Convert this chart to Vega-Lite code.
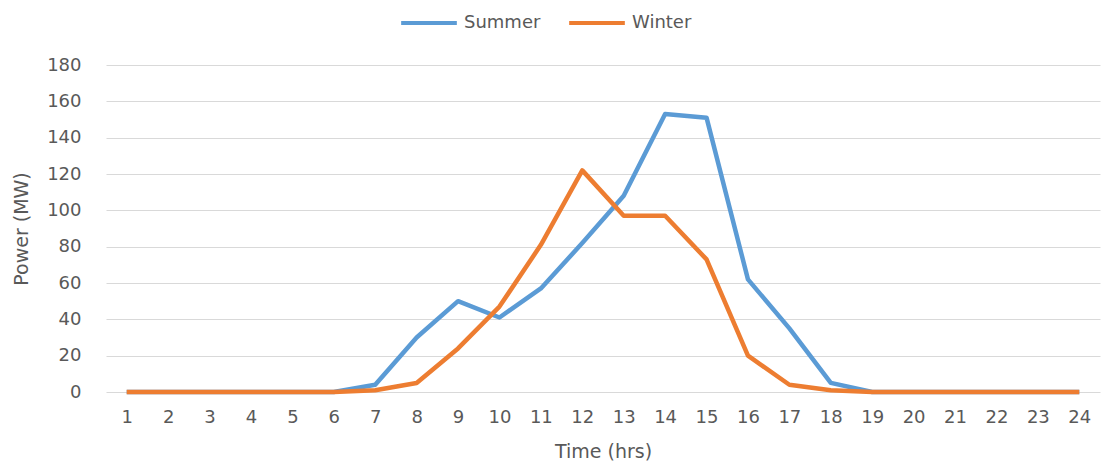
{
  "$schema": "https://vega.github.io/schema/vega-lite/v6.json",
  "width": 994,
  "height": 327,
  "autosize": {"type": "none"},
  "padding": {"left": 106, "top": 65, "right": 4, "bottom": 69},
  "background": "white",
  "data": {
    "values": [
      {"hour": 1, "season": "Summer", "power": 0},
      {"hour": 2, "season": "Summer", "power": 0},
      {"hour": 3, "season": "Summer", "power": 0},
      {"hour": 4, "season": "Summer", "power": 0},
      {"hour": 5, "season": "Summer", "power": 0},
      {"hour": 6, "season": "Summer", "power": 0},
      {"hour": 7, "season": "Summer", "power": 4},
      {"hour": 8, "season": "Summer", "power": 30},
      {"hour": 9, "season": "Summer", "power": 50},
      {"hour": 10, "season": "Summer", "power": 41},
      {"hour": 11, "season": "Summer", "power": 57},
      {"hour": 12, "season": "Summer", "power": 82},
      {"hour": 13, "season": "Summer", "power": 108},
      {"hour": 14, "season": "Summer", "power": 153},
      {"hour": 15, "season": "Summer", "power": 151},
      {"hour": 16, "season": "Summer", "power": 62},
      {"hour": 17, "season": "Summer", "power": 35},
      {"hour": 18, "season": "Summer", "power": 5},
      {"hour": 19, "season": "Summer", "power": 0},
      {"hour": 20, "season": "Summer", "power": 0},
      {"hour": 21, "season": "Summer", "power": 0},
      {"hour": 22, "season": "Summer", "power": 0},
      {"hour": 23, "season": "Summer", "power": 0},
      {"hour": 24, "season": "Summer", "power": 0},
      {"hour": 1, "season": "Winter", "power": 0},
      {"hour": 2, "season": "Winter", "power": 0},
      {"hour": 3, "season": "Winter", "power": 0},
      {"hour": 4, "season": "Winter", "power": 0},
      {"hour": 5, "season": "Winter", "power": 0},
      {"hour": 6, "season": "Winter", "power": 0},
      {"hour": 7, "season": "Winter", "power": 1},
      {"hour": 8, "season": "Winter", "power": 5},
      {"hour": 9, "season": "Winter", "power": 24},
      {"hour": 10, "season": "Winter", "power": 47},
      {"hour": 11, "season": "Winter", "power": 81},
      {"hour": 12, "season": "Winter", "power": 122},
      {"hour": 13, "season": "Winter", "power": 97},
      {"hour": 14, "season": "Winter", "power": 97},
      {"hour": 15, "season": "Winter", "power": 73},
      {"hour": 16, "season": "Winter", "power": 20},
      {"hour": 17, "season": "Winter", "power": 4},
      {"hour": 18, "season": "Winter", "power": 1},
      {"hour": 19, "season": "Winter", "power": 0},
      {"hour": 20, "season": "Winter", "power": 0},
      {"hour": 21, "season": "Winter", "power": 0},
      {"hour": 22, "season": "Winter", "power": 0},
      {"hour": 23, "season": "Winter", "power": 0},
      {"hour": 24, "season": "Winter", "power": 0}
    ]
  },
  "mark": {"type": "line", "strokeWidth": 4.5, "strokeJoin": "round"},
  "encoding": {
    "x": {
      "field": "hour",
      "type": "ordinal",
      "scale": {"type": "point", "padding": 0.5},
      "axis": {
        "title": "Time (hrs)",
        "labelAngle": 0,
        "labelPadding": 16,
        "titlePadding": 16,
        "grid": false
      }
    },
    "y": {
      "field": "power",
      "type": "quantitative",
      "scale": {"domain": [0, 180], "nice": false},
      "axis": {
        "title": "Power (MW)",
        "values": [0, 20, 40, 60, 80, 100, 120, 140, 160, 180],
        "labelPadding": 25,
        "titlePadding": 15,
        "grid": true
      }
    },
    "color": {
      "field": "season",
      "type": "nominal",
      "scale": {"domain": ["Summer", "Winter"], "range": ["#5B9BD5", "#ED7D31"]},
      "legend": {
        "title": null,
        "orient": "none",
        "direction": "horizontal",
        "legendX": 293,
        "legendY": -72,
        "symbolType": "stroke",
        "symbolSize": 3100,
        "symbolStrokeWidth": 4,
        "labelOffset": 5,
        "columnPadding": 20,
        "padding": 0,
        "labelFontSize": 18,
        "labelFont": "DejaVu Sans",
        "labelColor": "#595959"
      }
    }
  },
  "config": {
    "view": {"stroke": null},
    "axis": {
      "domain": false,
      "ticks": false,
      "tickSize": 0,
      "labelFont": "DejaVu Sans",
      "labelFontSize": 18,
      "labelColor": "#595959",
      "titleFont": "DejaVu Sans",
      "titleFontSize": 19,
      "titleFontWeight": "normal",
      "titleColor": "#595959",
      "gridColor": "#D9D9D9",
      "gridWidth": 1.2
    }
  }
}
